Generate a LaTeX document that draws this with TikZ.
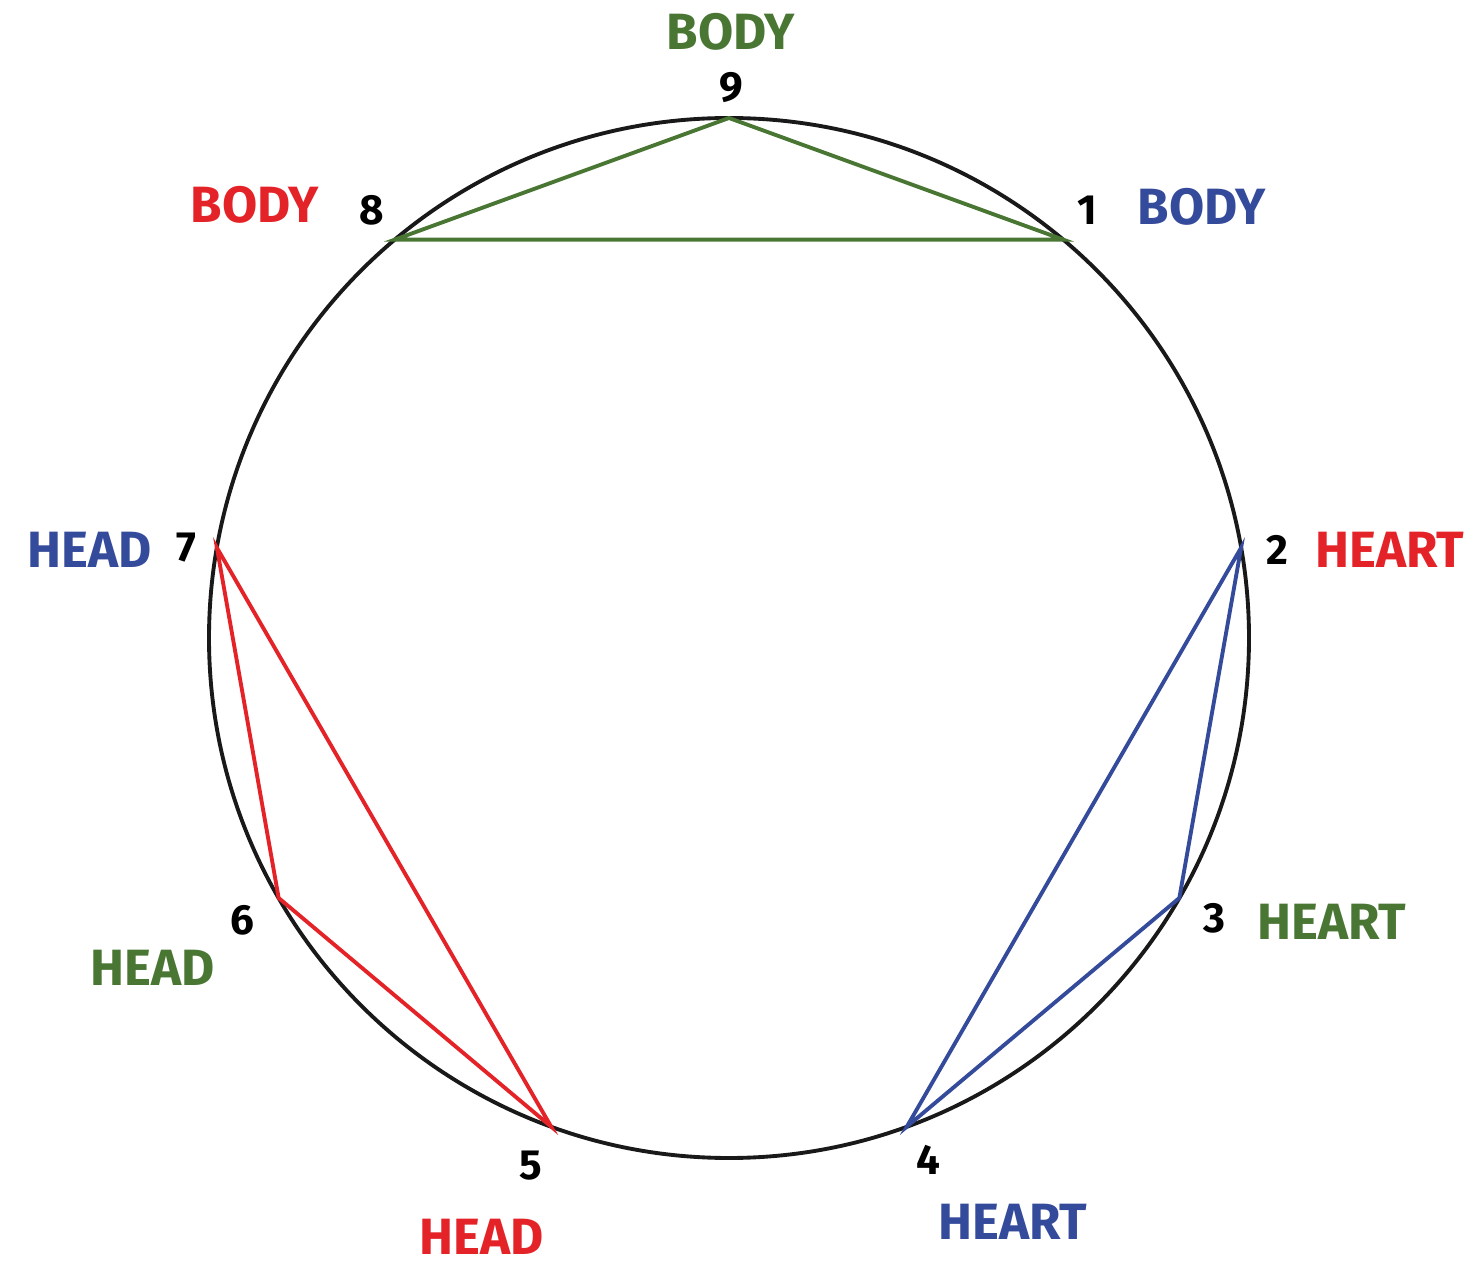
\documentclass[tikz,border=0pt]{standalone}
\usepackage{fontspec}
\setmainfont{Fira Sans}
\usetikzlibrary{calc}
\definecolor{gr}{RGB}{74,118,52}
\definecolor{rd}{RGB}{228,35,40}
\definecolor{bl}{RGB}{52,74,155}
\begin{document}
\begin{tikzpicture}[x=0.01cm,y=-0.01cm,
  lab/.style={font=\fontsize{14.5}{16}\selectfont\bfseries, inner sep=0pt},
  num/.style={font=\fontsize{12}{14}\selectfont\bfseries, inner sep=0pt},
  edge/.style={line width=1.1pt}]
\useasboundingbox (0,0) rectangle (1481,1264);
\node[draw=black!90, line width=1.1pt, circle, minimum size=1040*0.01cm, inner sep=0pt] (c) at (729,638) {};
\foreach \k in {1,...,9}{
  \coordinate (p\k) at ($(729,638)+({520*cos(90-40*\k)},{-520*sin(90-40*\k)})$);
}
\draw[edge,gr] (p9) -- (p1) -- (p8) -- cycle;
\draw[edge,bl] (p2) -- (p3) -- (p4) -- cycle;
\draw[edge,rd] (p7) -- (p6) -- (p5) -- cycle;
\node[num] (n9) at (731,88) {9};
\node[num] (n8) at (372,210) {8};
\node[num] (n1) at (1087,210) {1};
\node[num] (n2) at (1277,550) {2};
\node[num] (n7) at (186,548) {7};
\node[num] (n3) at (1214,918) {3};
\node[num] (n6) at (242,920) {6};
\node[num] (n4) at (928,1160) {4};
\node[num] (n5) at (531,1166) {5};
\node[lab,gr] (l9) at (731,32) {BODY};
\node[lab,rd] (l8) at (255,205) {BODY};
\node[lab,bl] (l1) at (1202,207) {BODY};
\node[lab,rd] (l2) at (1390,550) {HEART};
\node[lab,bl] (l7) at (90,550) {HEAD};
\node[lab,gr] (l3) at (1332,922) {HEART};
\node[lab,gr] (l6) at (153,968) {HEAD};
\node[lab,bl] (l4) at (1013,1222) {HEART};
\node[lab,rd] (l5) at (482,1237) {HEAD};
\end{tikzpicture}
\end{document}
